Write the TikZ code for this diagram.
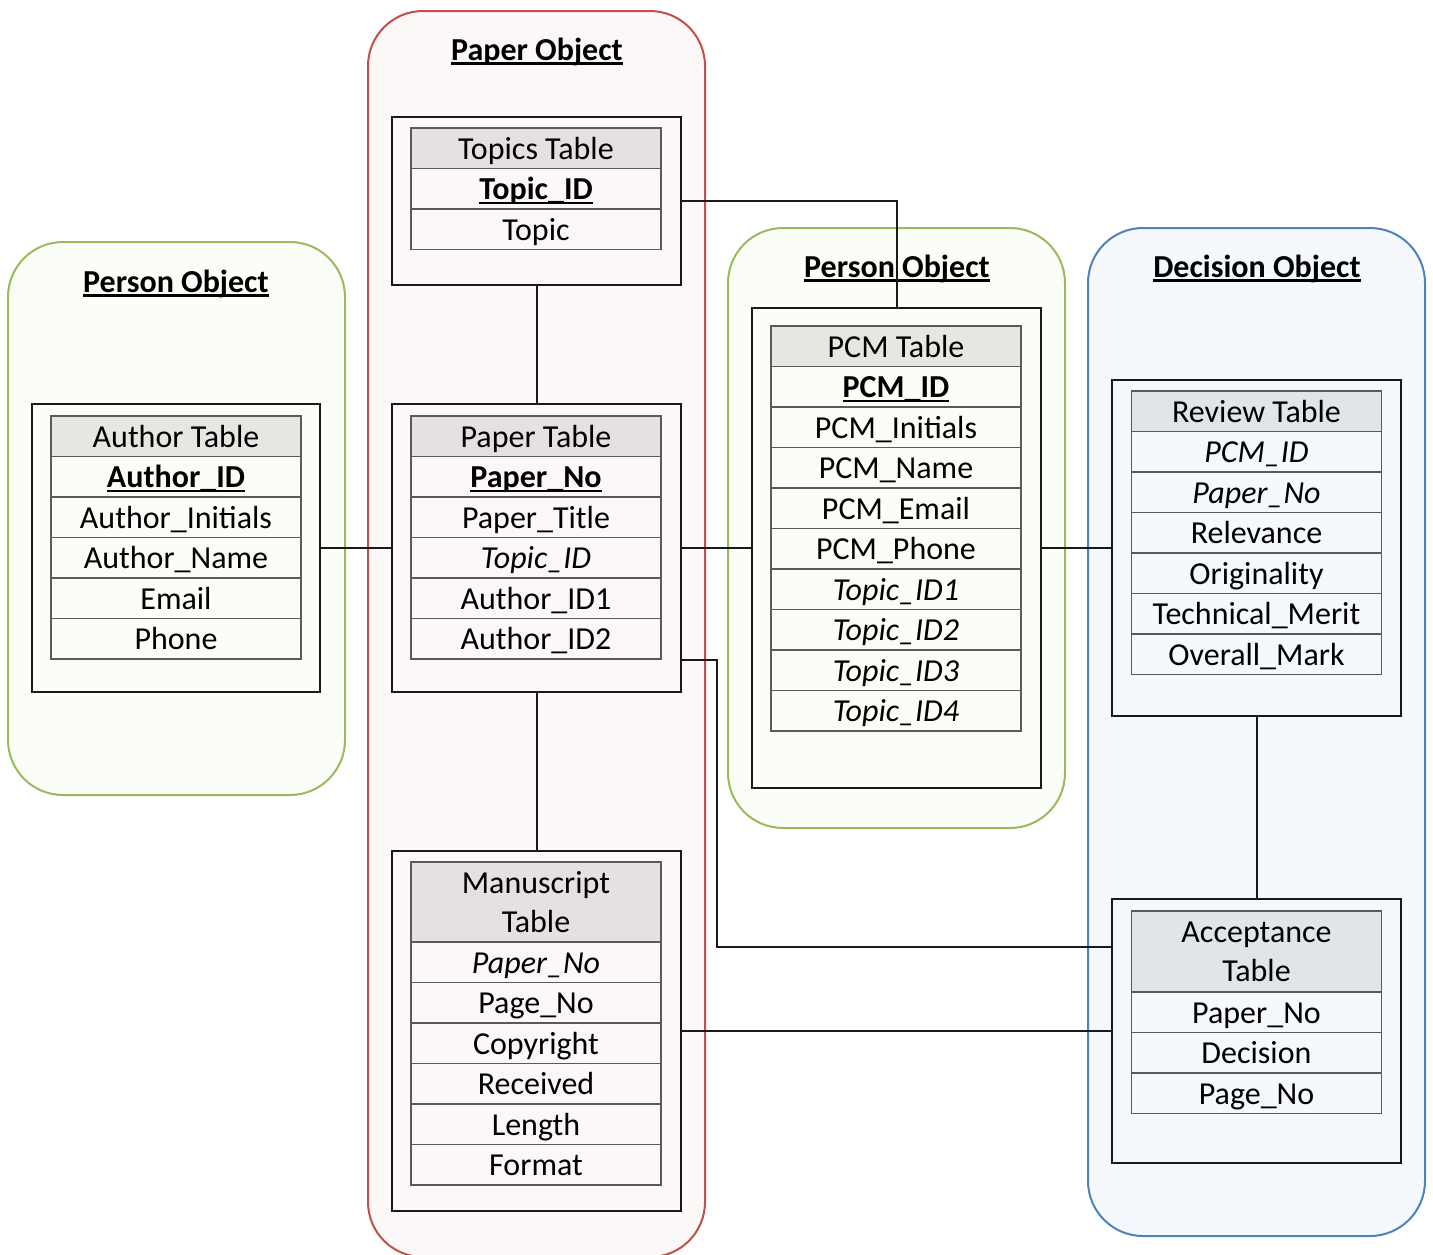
\documentclass[tikz,border=0pt]{standalone}
\usepackage{fontspec}
\setmainfont{Carlito}
\definecolor{redB}{HTML}{C0504D}
\definecolor{redF}{HTML}{FDF8F8}
\definecolor{redH}{HTML}{E6E0E0}
\definecolor{grnB}{HTML}{9BBB59}
\definecolor{grnF}{HTML}{FBFDF8}
\definecolor{grnH}{HTML}{E5E7E3}
\definecolor{bluB}{HTML}{4F81BD}
\definecolor{bluF}{HTML}{F5F8FD}
\definecolor{bluH}{HTML}{E1E5EA}
\definecolor{cellB}{HTML}{5A5A5A}
\newcommand\ulb[1]{\setbox0\hbox{\textbf{#1}}\rlap{\raisebox{-4.5pt}{\rule{\wd0}{2.4pt}}}\box0}
\newcommand\mkrows[5]{%
  \foreach \celltext [count=\i] in {#5} {%
    \node[cell, fill=#4] (#1-\i) at (#2, {#3+(\i-0.5)*40.5}) {\celltext};}}
\begin{document}
\begin{tikzpicture}[x=1pt,y=-1pt,
  container/.style={line width=2pt, rounded corners=55pt, inner sep=0pt},
  frame/.style={draw=black!90, line width=2pt, minimum width=289pt, inner sep=0pt},
  cell/.style={draw=cellB, line width=1.5pt, minimum width=250pt, minimum height=40.5pt, inner sep=0pt, text height=21.5pt, text depth=0pt, font=\fontsize{32}{38}\selectfont},
  hdr/.style={draw=cellB, line width=1.5pt, minimum width=250pt, inner sep=0pt, align=center, font=\fontsize{32}{39}\selectfont},
  title/.style={anchor=base, inner sep=0pt, font=\fontsize{32}{38}\selectfont\bfseries},
  conn/.style={draw=black!90, line width=2pt}]
\clip (0,0) rectangle (1433,1254);
% containers
\node[container, draw=grnB, fill=grnF, minimum width=337pt, minimum height=553pt] (personL) at (176.5,518.5) {};
\node[container, draw=redB, fill=redF, minimum width=337pt, minimum height=1246pt] (paperObj) at (536.5,634) {};
\node[container, draw=grnB, fill=grnF, minimum width=337pt, minimum height=600pt] (personR) at (896.5,528) {};
\node[container, draw=bluB, fill=bluF, minimum width=337pt, minimum height=1008pt] (decObj) at (1256.5,732) {};
% titles
\node[title] (tPaper) at (537,60) {\ulb{Paper Object}};
\node[title] (tPersonL) at (176,292) {\ulb{Person Object}};
\node[title] (tPersonR) at (897,277) {\ulb{Person Object}};
\node[title] (tDec) at (1257,277) {\ulb{Decision Object}};
% frames
\node[frame, fill=redF, minimum height=168pt] (topicsF) at (536.5,201) {};
\node[frame, fill=redF, minimum height=288pt] (paperF) at (536.5,548) {};
\node[frame, fill=grnF, minimum width=288pt, minimum height=288pt] (authorF) at (176,548) {};
\node[frame, fill=grnF, minimum height=480pt] (pcmF) at (896.5,548) {};
\node[frame, fill=bluF, minimum height=336pt] (reviewF) at (1256.5,548) {};
\node[frame, fill=redF, minimum height=360pt] (manuF) at (536.5,1031) {};
\node[frame, fill=bluF, minimum height=264pt] (accF) at (1256.5,1031) {};
% tables
\node[hdr, fill=redH, minimum height=40.5pt, text height=21.5pt, text depth=0pt] (topics-h) at (536,148.25) {Topics Table};
\mkrows{topics}{536}{168.5}{redF}{{\ulb{Topic\_ID}},Topic}
\node[hdr, fill=redH, minimum height=40.5pt, text height=21.5pt, text depth=0pt] (paper-h) at (536,436.25) {Paper Table};
\mkrows{paper}{536}{456.5}{redF}{{\ulb{Paper\_No}},Paper\_Title,{\textit{Topic\_ID}},Author\_ID1,Author\_ID2}
\node[hdr, fill=grnH, minimum height=40.5pt, text height=21.5pt, text depth=0pt] (author-h) at (176,436.25) {Author Table};
\mkrows{author}{176}{456.5}{grnF}{{\ulb{Author\_ID}},Author\_Initials,Author\_Name,Email,Phone}
\node[hdr, fill=grnH, minimum height=40.5pt, text height=21.5pt, text depth=0pt] (pcm-h) at (896,346.25) {PCM Table};
\mkrows{pcm}{896}{366.5}{grnF}{{\ulb{PCM\_ID}},PCM\_Initials,PCM\_Name,PCM\_Email,PCM\_Phone,{\textit{Topic\_ID1}},{\textit{Topic\_ID2}},{\textit{Topic\_ID3}},{\textit{Topic\_ID4}}}
\node[hdr, fill=bluH, minimum height=40.5pt, text height=21.5pt, text depth=0pt] (review-h) at (1256.5,411.25) {Review Table};
\mkrows{review}{1256.5}{431.5}{bluF}{{\textit{PCM\_ID}},{\textit{Paper\_No}},Relevance,Originality,Technical\_Merit,Overall\_Mark}
\node[hdr, fill=redH, minimum height=80pt] (manu-h) at (536,902) {Manuscript\\Table};
\mkrows{manu}{536}{942}{redF}{{\textit{Paper\_No}},Page\_No,Copyright,Received,Length,Format}
\node[hdr, fill=bluH, minimum height=81pt] (acc-h) at (1256.5,951.5) {Acceptance\\Table};
\mkrows{acc}{1256.5}{992}{bluF}{Paper\_No,Decision,Page\_No}
% connectors
\coordinate (bend) at (717,947);
\draw[conn] (topicsF.east) -| (pcmF.north);
\draw[conn] (topicsF) -- (paperF);
\draw[conn] (paperF) -- (manuF);
\draw[conn] (authorF) -- (paperF);
\draw[conn] (paperF) -- (pcmF);
\draw[conn] (pcmF) -- (reviewF);
\draw[conn] (reviewF) -- (accF);
\draw[conn] (manuF) -- (accF);
\draw[conn] (paperF.east |- paper-5.south) -| (bend) -- (accF.west |- bend);
\end{tikzpicture}
\end{document}
